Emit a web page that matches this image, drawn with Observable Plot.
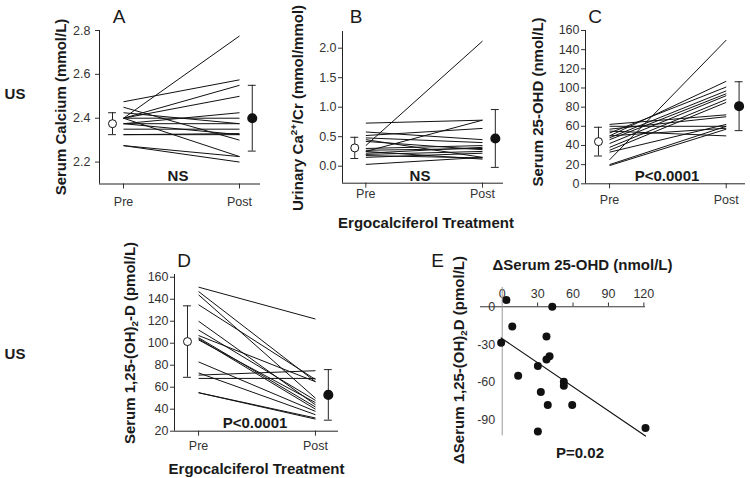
<!DOCTYPE html>
<html><head><meta charset="utf-8">
<script src="https://cdn.jsdelivr.net/npm/d3@7"></script>
<script src="https://cdn.jsdelivr.net/npm/@observablehq/plot@0.6"></script>
<style>
html,body{margin:0;padding:0;background:#fff;}
#fig{position:relative;width:750px;height:478px;overflow:hidden;font-family:"Liberation Sans",Arial,sans-serif;color:#1a1a1a;background:#fff;}
.t{position:absolute;white-space:nowrap;line-height:1;transform:translate(-50%,-50%);}
.r{transform:translate(-50%,-50%) rotate(-90deg);}
.b{font-weight:bold;}
.p{position:absolute;}
.sup{font-size:0.65em;vertical-align:0.55em;}
.sub{font-size:0.65em;vertical-align:-0.3em;}
</style></head><body><div id="fig"></div>
<script>
// ---------- data ----------
const xLabels = ["Pre", "Post"];

// Panel A: serum calcium (mmol/L)
const preA  = [2.40, 2.475, 2.40, 2.40, 2.45, 2.425, 2.375, 2.40, 2.375, 2.35, 2.325, 2.325, 2.40, 2.275, 2.275, 2.375];
const postA = [2.775, 2.575, 2.55, 2.50, 2.30, 2.375, 2.425, 2.40, 2.375, 2.35, 2.325, 2.33, 2.225, 2.225, 2.20, 2.325];
const meanA = [2.375, 2.40];
const sdA   = [0.05, 0.15];
const ticksA = [2.2, 2.4, 2.6, 2.8];

// Panel B: urinary Ca/Cr (mmol/mmol)
const preB  = [0.35, 0.73, 0.58, 0.52, 0.25, 0.45, 0.42, 0.30, 0.27, 0.22, 0.20, 0.18, 0.15, 0.25, 0.03, 0.48];
const postB = [2.12, 0.78, 0.45, 0.64, 0.78, 0.15, 0.28, 0.35, 0.30, 0.32, 0.25, 0.14, 0.22, 0.12, 0.15, 0.40];
const meanB = [0.31, 0.47];
const sdB   = [0.18, 0.49];
const ticksB = [0.0, 0.5, 1.0, 1.5, 2.0];

// Panel C: serum 25-OHD (nmol/L)
const preC  = [25, 55, 62, 57, 50, 53, 48, 46, 42, 38, 35, 33, 20, 19, 50, 60];
const postC = [150, 50, 72, 70, 107, 101, 97, 94, 92, 88, 85, 62, 60, 57, 58, 60];
const meanC = [44, 81];
const sdC   = [15, 25.5];
const ticksC = [0, 20, 40, 60, 80, 100, 120, 140, 160];

// Panel D: serum 1,25-(OH)2-D (pmol/L)
const preD  = [151, 147, 144, 135, 120, 112, 107, 105, 104, 103, 83, 73, 71, 68, 55, 55];
const postD = [122, 65, 50, 67, 44, 48, 65, 42, 40, 46, 38, 35, 75, 68, 32, 31];
const meanD = [101.5, 53];
const sdD   = [32.5, 23];
const ticksD = [20, 40, 60, 80, 100, 120, 140, 160];

// Panel E: change in 25-OHD vs change in 1,25-(OH)2D
const eX = [3.6, 42.4, 8.5, -0.9, 37.5, 40.1, 37.5, 30.2, 13.5, 52.2, 52.2, 32.7, 38.6, 59.3, 30.2, 121.4];
const eY = [5.3, 0, -15.6, -28.6, -23.5, -39.2, -41.8, -47.1, -54.8, -59.5, -62.7, -67.7, -78, -78, -99, -96.3];
const eXTicks = [0, 30, 60, 90, 120];
const eYTicks = [0, -30, -60, -90];

// ---------- layout ----------
const fig = document.getElementById("fig");
const FONT = '"Liberation Sans", Arial, sans-serif';
const MEAN_X = [-0.095, 1.11];
const CAP = 0.034;

function place(svg, left, top) {
  svg.style.position = "absolute";
  svg.style.left = left + "px";
  svg.style.top = top + "px";
  fig.appendChild(svg);
}

function pairedPanel(g, pre, post, mean, sd, yTicks, fmt, yPad, xPad) {
  const ml = 50, mr = 12, mt = 10, mb = 30;
  const w = g.right - g.left + ml + mr, h = g.bottom - g.top + mt + mb;
  const rows = pre.map((p, i) => ({pre: p, post: post[i]}));
  const means = mean.map((m, i) => ({x: MEAN_X[i], m, lo: m - sd[i], hi: m + sd[i]}));
  const caps = means.flatMap(d => [{x: d.x, y: d.lo}, {x: d.x, y: d.hi}]);
  const svg = Plot.plot({
    width: w, height: h,
    marginLeft: ml, marginRight: mr, marginTop: mt, marginBottom: mb,
    x: {domain: g.xd}, y: {domain: g.yd},
    style: {fontFamily: FONT, fontSize: "12.5px", color: "#333", background: "transparent", overflow: "visible"},
    marks: [
      Plot.axisY(yTicks, {tickSize: 4, tickPadding: yPad, tickFormat: fmt, label: null}),
      Plot.axisX([0, 1], {tickSize: 5, tickPadding: xPad, tickFormat: i => xLabels[i], label: null}),
      Plot.ruleX([g.xd[0]], {stroke: "#222"}),
      Plot.ruleY([g.yd[0]], {stroke: "#222"}),
      Plot.link(rows, {x1: d => 0, x2: d => 1, y1: "pre", y2: "post", stroke: "#111", strokeWidth: 1}),
      Plot.ruleX(means, {x: "x", y1: "lo", y2: "hi", stroke: "#222"}),
      Plot.ruleY(caps, {y: "y", x1: d => d.x - CAP, x2: d => d.x + CAP, stroke: "#222"}),
      Plot.dot(means.slice(0, 1), {x: "x", y: "m", r: 4, fill: "white", stroke: "#111", strokeWidth: 1}),
      Plot.dot(means.slice(1), {x: "x", y: "m", r: 4.3, fill: "#111", stroke: "#111"})
    ]
  });
  place(svg, g.left - ml, g.top - mt);
}

pairedPanel({left: 99, right: 260, top: 30, bottom: 183.5, xd: [-0.207, 1.181], yd: [2.1, 2.8]},
  preA, postA, meanA, sdA, ticksA, d => d.toFixed(1), 5, 8);
pairedPanel({left: 342, right: 503, top: 31, bottom: 182.7, xd: [-0.2, 1.18], yd: [-0.288, 2.283]},
  preB, postB, meanB, sdB, ticksB, d => d.toFixed(1), 2, 1);
pairedPanel({left: 585, right: 745, top: 30, bottom: 183.3, xd: [-0.206, 1.165], yd: [0, 160]},
  preC, postC, meanC, sdC, ticksC, d => String(d), 2, 6);
pairedPanel({left: 174, right: 338, top: 274, bottom: 430.7, xd: [-0.206, 1.197], yd: [20, 162.5]},
  preD, postD, meanD, sdD, ticksD, d => String(d), 2, 5);

// Panel E
(function () {
  const g = {left: 480, right: 645, top: 286.7, bottom: 435};
  const ml = 40, mr = 15, mt = 20, mb = 15;
  const w = g.right - g.left + ml + mr, h = g.bottom - g.top + mt + mb;
  const pts = eX.map((x, i) => ({x, y: eY[i]}));
  const svg = Plot.plot({
    width: w, height: h,
    marginLeft: ml, marginRight: mr, marginTop: mt, marginBottom: mb,
    x: {domain: [-18.4, 121.4], axis: null}, y: {domain: [-102.4, 15.3], axis: null},
    style: {fontFamily: FONT, fontSize: "12.5px", color: "#333", background: "transparent", overflow: "visible"},
    marks: [
      Plot.ruleY([0], {stroke: "#333"}),
      Plot.ruleX(eXTicks.filter(d => d !== 0), {x: d => d, y1: d => 0, y2: d => 3, stroke: "#333"}),
      Plot.text(eXTicks, {x: d => d, y: d => 0, dy: -13, text: d => String(d), fill: "#333"}),
      Plot.text(eYTicks, {x: d => 0, y: d => d, dx: -7, textAnchor: "end", text: d => String(d), fill: "#333"}),
      Plot.ruleX([0], {stroke: "#999"}),
      Plot.linearRegressionY(pts, {x: "x", y: "y", ci: 0, stroke: "#111", strokeWidth: 1.2}),
      Plot.dot(pts, {x: "x", y: "y", r: 4, fill: "#111"})
    ]
  });
  place(svg, g.left - ml, g.top - mt);
})();

// ---------- text ----------
function txt(html, x, y, size, cls) {
  const d = document.createElement("div");
  d.className = "t " + (cls || "");
  d.style.left = x + "px";
  d.style.top = y + "px";
  d.style.fontSize = size + "px";
  d.innerHTML = html;
  fig.appendChild(d);
}
txt("US", 15, 93, 15, "b");
txt("US", 15, 353, 15, "b");
txt("A", 119, 16, 19);
txt("B", 356, 16, 19);
txt("C", 595, 16, 19);
txt("D", 184, 260, 19);
txt("E", 437.5, 260, 19);
txt("Serum Calcium (mmol/L)", 59.5, 107, 15, "b r");
txt('Urinary Ca<span class="sup">2+</span>/Cr (mmol/mmol)', 297, 108, 15, "b r");
txt("Serum 25-OHD (nmol/L)", 537, 102, 15, "b r");
txt('Serum 1,25-(OH)<span class="sub">2</span>-D (pmol/L)', 131, 343, 15, "b r");
txt('ΔSerum 1,25-(OH)<span class="sub">2</span>D (pmol/L)', 460, 360, 15, "b r");
txt("ΔSerum 25-OHD (nmol/L)", 582.5, 263.5, 15, "b");
txt("NS", 178, 175, 15, "b");
txt("NS", 420, 175, 15, "b");
txt("P&lt;0.0001", 667, 175, 15, "b");
txt("P&lt;0.0001", 255, 421.5, 15, "b");
txt("P=0.02", 580, 451.5, 15, "b");
txt("Ergocalciferol Treatment", 426, 222, 15, "b");
txt("Ergocalciferol Treatment", 256.5, 467.5, 15, "b");
</script></body></html>
